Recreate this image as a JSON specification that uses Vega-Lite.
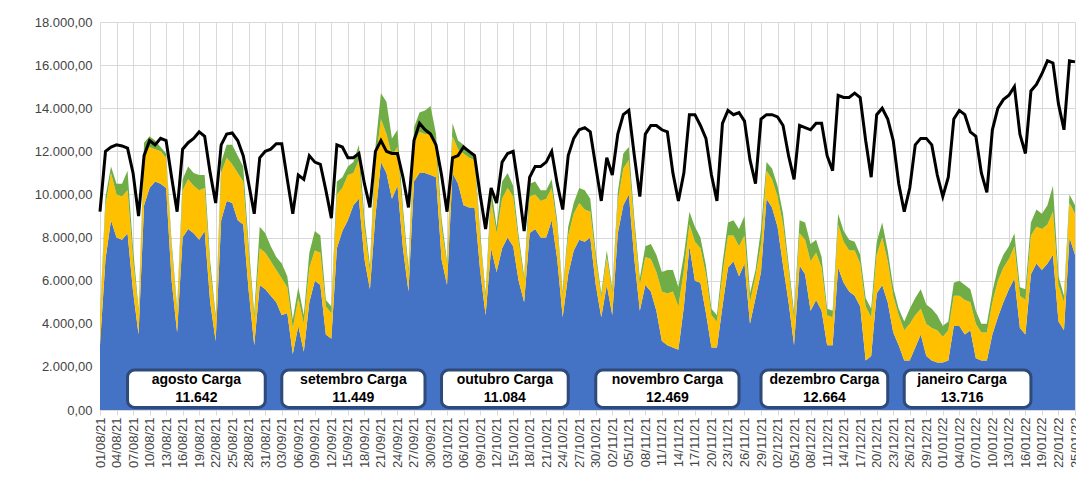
{
  "$schema": "https://vega.github.io/schema/vega-lite/v6.json",
  "width": 975,
  "height": 388,
  "autosize": {"type": "none"},
  "padding": {"left": 100, "top": 22, "right": 1, "bottom": 79},
  "background": "white",
  "datasets": {
    "dias": [
      {"d":"2021-08-01","L":9200,"a":3000,"b":1200,"c":200},
      {"d":"2021-08-02","L":12000,"a":7000,"b":2500,"c":400},
      {"d":"2021-08-03","L":12200,"a":8800,"b":2200,"c":300},
      {"d":"2021-08-04","L":12300,"a":8000,"b":2000,"c":500},
      {"d":"2021-08-05","L":12250,"a":7900,"b":2000,"c":600},
      {"d":"2021-08-06","L":12150,"a":8200,"b":2000,"c":900},
      {"d":"2021-08-07","L":11000,"a":5500,"b":1500,"c":500},
      {"d":"2021-08-08","L":9000,"a":3500,"b":1000,"c":200},
      {"d":"2021-08-09","L":11800,"a":9500,"b":2500,"c":400},
      {"d":"2021-08-10","L":12500,"a":10300,"b":1900,"c":500},
      {"d":"2021-08-11","L":12300,"a":10600,"b":1500,"c":400},
      {"d":"2021-08-12","L":12600,"a":10500,"b":1500,"c":200},
      {"d":"2021-08-13","L":12500,"a":10300,"b":1400,"c":200},
      {"d":"2021-08-14","L":10800,"a":6000,"b":1500,"c":300},
      {"d":"2021-08-15","L":9200,"a":3600,"b":1000,"c":200},
      {"d":"2021-08-16","L":12100,"a":8000,"b":2200,"c":500},
      {"d":"2021-08-17","L":12400,"a":8400,"b":2300,"c":600},
      {"d":"2021-08-18","L":12600,"a":8200,"b":2200,"c":600},
      {"d":"2021-08-19","L":12900,"a":7900,"b":2300,"c":700},
      {"d":"2021-08-20","L":12700,"a":8300,"b":2000,"c":600},
      {"d":"2021-08-21","L":11000,"a":5000,"b":1500,"c":400},
      {"d":"2021-08-22","L":9600,"a":3200,"b":1000,"c":200},
      {"d":"2021-08-23","L":12300,"a":8800,"b":2200,"c":500},
      {"d":"2021-08-24","L":12800,"a":9700,"b":2000,"c":600},
      {"d":"2021-08-25","L":12850,"a":9600,"b":1800,"c":900},
      {"d":"2021-08-26","L":12500,"a":8800,"b":2200,"c":800},
      {"d":"2021-08-27","L":11800,"a":8600,"b":2000,"c":700},
      {"d":"2021-08-28","L":10500,"a":5500,"b":1700,"c":400},
      {"d":"2021-08-29","L":9100,"a":3000,"b":1200,"c":300},
      {"d":"2021-08-30","L":11700,"a":5800,"b":1700,"c":1000},
      {"d":"2021-08-31","L":12000,"a":5600,"b":1700,"c":900},
      {"d":"2021-09-01","L":12100,"a":5300,"b":1600,"c":700},
      {"d":"2021-09-02","L":12350,"a":5000,"b":1500,"c":600},
      {"d":"2021-09-03","L":12350,"a":4400,"b":1700,"c":700},
      {"d":"2021-09-04","L":10700,"a":4500,"b":1200,"c":500},
      {"d":"2021-09-05","L":9100,"a":2600,"b":1200,"c":400},
      {"d":"2021-09-06","L":10900,"a":3900,"b":1300,"c":500},
      {"d":"2021-09-07","L":10700,"a":2700,"b":1300,"c":400},
      {"d":"2021-09-08","L":11800,"a":5000,"b":1600,"c":700},
      {"d":"2021-09-09","L":11500,"a":6000,"b":1400,"c":900},
      {"d":"2021-09-10","L":11400,"a":5800,"b":1500,"c":800},
      {"d":"2021-09-11","L":10200,"a":3500,"b":1300,"c":300},
      {"d":"2021-09-12","L":8900,"a":3300,"b":1200,"c":300},
      {"d":"2021-09-13","L":12300,"a":7500,"b":2500,"c":600},
      {"d":"2021-09-14","L":12200,"a":8300,"b":2000,"c":500},
      {"d":"2021-09-15","L":11700,"a":8800,"b":2100,"c":400},
      {"d":"2021-09-16","L":11700,"a":9500,"b":1500,"c":500},
      {"d":"2021-09-17","L":11900,"a":9800,"b":1800,"c":700},
      {"d":"2021-09-18","L":10500,"a":7000,"b":1500,"c":400},
      {"d":"2021-09-19","L":9400,"a":5600,"b":800,"c":300},
      {"d":"2021-09-20","L":12000,"a":9000,"b":2500,"c":700},
      {"d":"2021-09-21","L":12500,"a":11500,"b":2000,"c":1200},
      {"d":"2021-09-22","L":12000,"a":11000,"b":1800,"c":1500},
      {"d":"2021-09-23","L":11900,"a":9800,"b":2000,"c":800},
      {"d":"2021-09-24","L":11900,"a":10400,"b":1800,"c":800},
      {"d":"2021-09-25","L":10800,"a":7500,"b":1500,"c":400},
      {"d":"2021-09-26","L":9400,"a":5500,"b":800,"c":300},
      {"d":"2021-09-27","L":12500,"a":10600,"b":1800,"c":700},
      {"d":"2021-09-28","L":13300,"a":11000,"b":1900,"c":900},
      {"d":"2021-09-29","L":13000,"a":11000,"b":1800,"c":1100},
      {"d":"2021-09-30","L":12800,"a":10900,"b":1900,"c":1300},
      {"d":"2021-10-01","L":12300,"a":10800,"b":1300,"c":700},
      {"d":"2021-10-02","L":10900,"a":7000,"b":1500,"c":400},
      {"d":"2021-10-03","L":9200,"a":5800,"b":900,"c":200},
      {"d":"2021-10-04","L":11700,"a":11000,"b":1700,"c":600},
      {"d":"2021-10-05","L":11800,"a":10500,"b":1600,"c":400},
      {"d":"2021-10-06","L":12200,"a":9500,"b":2400,"c":400},
      {"d":"2021-10-07","L":12000,"a":9400,"b":2300,"c":300},
      {"d":"2021-10-08","L":11800,"a":9400,"b":2200,"c":300},
      {"d":"2021-10-09","L":10000,"a":6500,"b":1500,"c":300},
      {"d":"2021-10-10","L":8400,"a":4400,"b":800,"c":200},
      {"d":"2021-10-11","L":10300,"a":7500,"b":2200,"c":600},
      {"d":"2021-10-12","L":9600,"a":6400,"b":1800,"c":300},
      {"d":"2021-10-13","L":11500,"a":7500,"b":2300,"c":800},
      {"d":"2021-10-14","L":11900,"a":8000,"b":2300,"c":700},
      {"d":"2021-10-15","L":12000,"a":7600,"b":2300,"c":500},
      {"d":"2021-10-16","L":10300,"a":6000,"b":1800,"c":300},
      {"d":"2021-10-17","L":8300,"a":5000,"b":1000,"c":200},
      {"d":"2021-10-18","L":10800,"a":8200,"b":1700,"c":600},
      {"d":"2021-10-19","L":11300,"a":8400,"b":1600,"c":600},
      {"d":"2021-10-20","L":11300,"a":8000,"b":1700,"c":500},
      {"d":"2021-10-21","L":11500,"a":8000,"b":1800,"c":400},
      {"d":"2021-10-22","L":12000,"a":8800,"b":1500,"c":400},
      {"d":"2021-10-23","L":10500,"a":7000,"b":1500,"c":300},
      {"d":"2021-10-24","L":9300,"a":4300,"b":1000,"c":200},
      {"d":"2021-10-25","L":11800,"a":6300,"b":1800,"c":400},
      {"d":"2021-10-26","L":12600,"a":7400,"b":1700,"c":500},
      {"d":"2021-10-27","L":13000,"a":7900,"b":1700,"c":700},
      {"d":"2021-10-28","L":13100,"a":7800,"b":1500,"c":900},
      {"d":"2021-10-29","L":12900,"a":8000,"b":1200,"c":600},
      {"d":"2021-10-30","L":11300,"a":5800,"b":1200,"c":300},
      {"d":"2021-10-31","L":9700,"a":4300,"b":900,"c":200},
      {"d":"2021-11-01","L":11700,"a":5800,"b":1300,"c":300},
      {"d":"2021-11-02","L":10900,"a":4400,"b":1000,"c":200},
      {"d":"2021-11-03","L":12800,"a":8200,"b":1500,"c":400},
      {"d":"2021-11-04","L":13700,"a":9500,"b":1700,"c":700},
      {"d":"2021-11-05","L":13900,"a":10000,"b":1600,"c":600},
      {"d":"2021-11-06","L":11800,"a":7000,"b":1500,"c":400},
      {"d":"2021-11-07","L":9900,"a":4600,"b":1200,"c":300},
      {"d":"2021-11-08","L":12800,"a":5800,"b":1300,"c":500},
      {"d":"2021-11-09","L":13200,"a":5500,"b":1500,"c":700},
      {"d":"2021-11-10","L":13200,"a":4600,"b":1800,"c":800},
      {"d":"2021-11-11","L":13000,"a":3200,"b":2300,"c":900},
      {"d":"2021-11-12","L":12900,"a":3000,"b":2400,"c":1100},
      {"d":"2021-11-13","L":11000,"a":2900,"b":2600,"c":1000},
      {"d":"2021-11-14","L":9700,"a":2800,"b":2000,"c":900},
      {"d":"2021-11-15","L":11000,"a":4800,"b":1700,"c":700},
      {"d":"2021-11-16","L":13700,"a":7600,"b":1000,"c":600},
      {"d":"2021-11-17","L":13700,"a":6000,"b":1800,"c":700},
      {"d":"2021-11-18","L":13200,"a":5900,"b":1600,"c":500},
      {"d":"2021-11-19","L":12600,"a":4500,"b":1800,"c":400},
      {"d":"2021-11-20","L":10900,"a":2900,"b":1500,"c":300},
      {"d":"2021-11-21","L":9700,"a":2900,"b":1200,"c":300},
      {"d":"2021-11-22","L":13300,"a":4800,"b":1500,"c":500},
      {"d":"2021-11-23","L":13900,"a":6600,"b":1500,"c":600},
      {"d":"2021-11-24","L":13700,"a":6900,"b":1200,"c":700},
      {"d":"2021-11-25","L":13800,"a":6200,"b":1400,"c":800},
      {"d":"2021-11-26","L":13400,"a":6800,"b":1300,"c":900},
      {"d":"2021-11-27","L":11600,"a":4000,"b":1000,"c":400},
      {"d":"2021-11-28","L":10500,"a":5200,"b":1000,"c":300},
      {"d":"2021-11-29","L":13500,"a":6400,"b":1300,"c":700},
      {"d":"2021-11-30","L":13700,"a":9800,"b":1300,"c":400},
      {"d":"2021-12-01","L":13700,"a":9400,"b":1300,"c":500},
      {"d":"2021-12-02","L":13600,"a":8500,"b":1400,"c":500},
      {"d":"2021-12-03","L":13200,"a":6700,"b":1900,"c":500},
      {"d":"2021-12-04","L":11800,"a":5000,"b":1500,"c":300},
      {"d":"2021-12-05","L":10700,"a":3000,"b":1200,"c":300},
      {"d":"2021-12-06","L":13200,"a":6700,"b":1500,"c":600},
      {"d":"2021-12-07","L":13100,"a":6300,"b":1600,"c":800},
      {"d":"2021-12-08","L":13000,"a":4600,"b":2300,"c":800},
      {"d":"2021-12-09","L":13300,"a":5100,"b":2200,"c":600},
      {"d":"2021-12-10","L":13300,"a":4600,"b":2000,"c":500},
      {"d":"2021-12-11","L":11800,"a":3000,"b":1400,"c":300},
      {"d":"2021-12-12","L":11100,"a":3000,"b":1300,"c":300},
      {"d":"2021-12-13","L":14600,"a":6600,"b":2000,"c":500},
      {"d":"2021-12-14","L":14500,"a":5900,"b":1900,"c":500},
      {"d":"2021-12-15","L":14500,"a":5500,"b":1900,"c":500},
      {"d":"2021-12-16","L":14700,"a":5300,"b":2100,"c":400},
      {"d":"2021-12-17","L":14500,"a":4800,"b":2000,"c":400},
      {"d":"2021-12-18","L":12500,"a":2300,"b":2500,"c":400},
      {"d":"2021-12-19","L":10800,"a":2500,"b":1800,"c":400},
      {"d":"2021-12-20","L":13700,"a":5400,"b":1800,"c":600},
      {"d":"2021-12-21","L":14000,"a":5800,"b":2200,"c":700},
      {"d":"2021-12-22","L":13500,"a":5000,"b":1900,"c":500},
      {"d":"2021-12-23","L":12500,"a":3600,"b":1700,"c":400},
      {"d":"2021-12-24","L":10500,"a":3000,"b":1400,"c":300},
      {"d":"2021-12-25","L":9200,"a":2300,"b":1400,"c":400},
      {"d":"2021-12-26","L":10300,"a":2300,"b":1700,"c":700},
      {"d":"2021-12-27","L":12300,"a":2900,"b":1500,"c":800},
      {"d":"2021-12-28","L":12600,"a":3500,"b":1200,"c":900},
      {"d":"2021-12-29","L":12600,"a":2500,"b":1500,"c":900},
      {"d":"2021-12-30","L":12300,"a":2300,"b":1500,"c":900},
      {"d":"2021-12-31","L":10900,"a":2200,"b":1500,"c":700},
      {"d":"2022-01-01","L":9900,"a":2200,"b":1200,"c":500},
      {"d":"2022-01-02","L":10800,"a":2300,"b":1400,"c":400},
      {"d":"2022-01-03","L":13500,"a":3900,"b":1400,"c":600},
      {"d":"2022-01-04","L":13900,"a":3900,"b":1400,"c":700},
      {"d":"2022-01-05","L":13700,"a":3500,"b":1600,"c":700},
      {"d":"2022-01-06","L":12900,"a":3700,"b":1300,"c":600},
      {"d":"2022-01-07","L":12700,"a":2400,"b":1600,"c":600},
      {"d":"2022-01-08","L":11000,"a":2300,"b":1300,"c":400},
      {"d":"2022-01-09","L":10100,"a":2300,"b":1300,"c":400},
      {"d":"2022-01-10","L":13000,"a":3500,"b":1500,"c":500},
      {"d":"2022-01-11","L":14000,"a":4300,"b":1700,"c":600},
      {"d":"2022-01-12","L":14400,"a":5000,"b":1600,"c":600},
      {"d":"2022-01-13","L":14600,"a":5600,"b":1400,"c":600},
      {"d":"2022-01-14","L":15000,"a":6100,"b":1500,"c":600},
      {"d":"2022-01-15","L":12800,"a":3800,"b":1500,"c":400},
      {"d":"2022-01-16","L":11900,"a":3500,"b":1600,"c":500},
      {"d":"2022-01-17","L":14800,"a":6300,"b":1800,"c":600},
      {"d":"2022-01-18","L":15100,"a":6800,"b":1700,"c":800},
      {"d":"2022-01-19","L":15600,"a":6500,"b":1900,"c":700},
      {"d":"2022-01-20","L":16200,"a":6800,"b":1800,"c":900},
      {"d":"2022-01-21","L":16100,"a":7200,"b":2000,"c":1200},
      {"d":"2022-01-22","L":14200,"a":4100,"b":1700,"c":400},
      {"d":"2022-01-23","L":13000,"a":3700,"b":1300,"c":300},
      {"d":"2022-01-24","L":16200,"a":8000,"b":1600,"c":400},
      {"d":"2022-01-25","L":16150,"a":7200,"b":1900,"c":400}
    ],
    "caixas": [
      {"mes":"agosto Carga","valor":"11.642","ini":"2021-08-06","fim":"2021-08-31","centro":"2021-08-18T12:00:00Z"},
      {"mes":"setembro Carga","valor":"11.449","ini":"2021-09-03","fim":"2021-09-29","centro":"2021-09-16T00:00:00Z"},
      {"mes":"outubro Carga","valor":"11.084","ini":"2021-10-02","fim":"2021-10-25","centro":"2021-10-13T12:00:00Z"},
      {"mes":"novembro Carga","valor":"12.469","ini":"2021-10-30","fim":"2021-11-25","centro":"2021-11-12T00:00:00Z"},
      {"mes":"dezembro Carga","valor":"12.664","ini":"2021-11-29","fim":"2021-12-22","centro":"2021-12-10T12:00:00Z"},
      {"mes":"janeiro Carga","valor":"13.716","ini":"2021-12-25","fim":"2022-01-17","centro":"2022-01-04T12:00:00Z"}
    ]
  },
  "layer": [
    {
      "data": {"name": "dias"},
      "transform": [{"fold": ["a", "b", "c"], "as": ["serie", "v"]}],
      "mark": {"type": "area", "opacity": 1},
      "encoding": {
        "x": {
          "field": "d", "type": "temporal", "title": null,
          "scale": {"type": "utc", "nice": false, "padding": 0},
          "axis": {
            "tickCount": {"interval": "day", "step": 1},
            "labelOverlap": false,
            "labelAngle": -90,
            "labelFontSize": 13,
            "labelFont": "Liberation Sans",
            "labelColor": "#444444",
            "labelExpr": "round((datum.value - 1627776000000) / 86400000) % 3 == 0 ? utcFormat(datum.value, '%d/%m/%y') : ''",
            "gridColor": {"condition": {"test": "round((datum.value - 1627776000000) / 86400000) % 3 == 0", "value": "#d9d9d9"}, "value": "transparent"},
            "tickColor": {"condition": {"test": "round((datum.value - 1627776000000) / 86400000) % 3 == 0", "value": "#d9d9d9"}, "value": "transparent"},
            "domainColor": "#d9d9d9"
          }
        },
        "y": {
          "field": "v", "type": "quantitative", "stack": "zero", "title": null,
          "scale": {"domain": [0, 18000], "nice": false},
          "axis": {
            "values": [0, 2000, 4000, 6000, 8000, 10000, 12000, 14000, 16000, 18000],
            "labelExpr": "replace(replace(replace(format(datum.value, ',.2f'), ',', '_'), '.', ','), '_', '.')",
            "labelFontSize": 13,
            "labelFont": "Liberation Sans",
            "labelColor": "#444444",
            "gridColor": "#d9d9d9",
            "domain": false,
            "ticks": false,
            "labelPadding": 8
          }
        },
        "color": {
          "field": "serie", "type": "nominal", "legend": null,
          "scale": {"domain": ["a", "b", "c"], "range": ["#4472C4", "#FFC000", "#70AD47"]}
        },
        "order": {"field": "serie", "sort": "ascending"}
      }
    },
    {
      "data": {"name": "dias"},
      "mark": {"type": "line", "color": "black", "strokeWidth": 3},
      "encoding": {
        "x": {"field": "d", "type": "temporal"},
        "y": {"field": "L", "type": "quantitative"}
      }
    },
    {
      "data": {"name": "caixas"},
      "mark": {"type": "rect", "fill": "white", "stroke": "#2E4A78", "strokeWidth": 3, "cornerRadius": 7},
      "encoding": {
        "x": {"field": "ini", "type": "temporal"},
        "x2": {"field": "fim"},
        "y": {"datum": 120},
        "y2": {"datum": 1850}
      }
    },
    {
      "data": {"name": "caixas"},
      "mark": {"type": "text", "font": "Liberation Sans", "fontSize": 14, "fontWeight": "bold", "color": "black"},
      "encoding": {
        "x": {"field": "centro", "type": "temporal"},
        "y": {"datum": 1370},
        "text": {"field": "mes"}
      }
    },
    {
      "data": {"name": "caixas"},
      "mark": {"type": "text", "font": "Liberation Sans", "fontSize": 14, "fontWeight": "bold", "color": "black"},
      "encoding": {
        "x": {"field": "centro", "type": "temporal"},
        "y": {"datum": 560},
        "text": {"field": "valor"}
      }
    }
  ],
  "config": {"view": {"stroke": null}}
}
